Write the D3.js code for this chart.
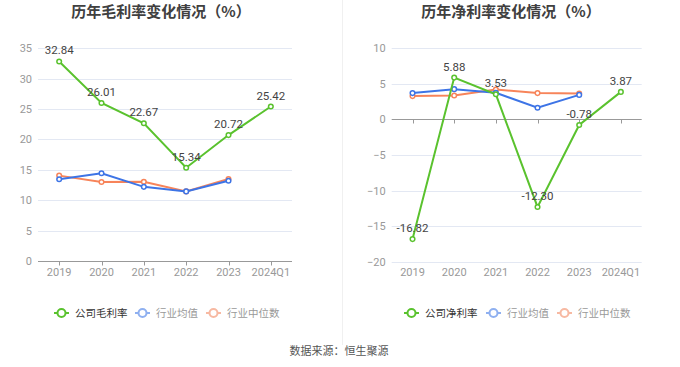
<!DOCTYPE html>
<html><head><meta charset="utf-8">
<script src="https://cdn.jsdelivr.net/npm/d3@7/dist/d3.min.js"></script>
<style>body{margin:0;background:#fff;}svg{display:block;font-family:"Noto Sans CJK SC","Noto Sans",sans-serif;}</style>
</head><body><svg id="c" width="680" height="367"></svg>
<script>
const categories = ["2019","2020","2021","2022","2023","2024Q1"];
const grossCompany = [32.84, 26.01, 22.67, 15.34, 20.72, 25.42];
const grossAvg = [13.45, 14.45, 12.2, 11.45, 13.2];
const grossMedian = [14.05, 13.0, 13.05, 11.45, 13.5];
const netCompany = [-16.82, 5.88, 3.53, -12.30, -0.78, 3.87];
const netAvg = [3.7, 4.26, 3.75, 1.64, 3.45];
const netMedian = [3.28, 3.37, 4.2, 3.7, 3.65];
const grossTicks = [0,5,10,15,20,25,30,35];
const netTicks = [-20,-15,-10,-5,0,5,10];
const titles = ["历年毛利率变化情况（%）","历年净利率变化情况（%）"];
const legendGross = ["公司毛利率","行业均值","行业中位数"];
const legendNet = ["公司净利率","行业均值","行业中位数"];
const source = "数据来源：恒生聚源";

const GREEN="#5ac22e", BLUE="#3d74e6", ORANGE="#f7845a";
const svg = d3.select("#c");

// divider
svg.append("line").attr("x1",342.5).attr("x2",342.5).attr("y1",0).attr("y2",345).attr("stroke","#f0f0f0");

function panel(o){
  const g = svg.append("g");
  const x = d3.scaleBand().domain(categories).range([o.x0,o.x1]);
  const y = d3.scaleLinear().domain(o.domain).range([o.yb,o.yt]);
  const cx = d => x(d)+x.bandwidth()/2;
  // title
  g.append("text").attr("x",o.tx).attr("y",17).attr("text-anchor","middle")
    .attr("font-size",15).attr("font-weight","bold").attr("fill","#404040").text(o.title);
  // grid
  o.ticks.forEach(t=>{
    if(t===o.axisAt) return;
    g.append("line").attr("x1",o.x0).attr("x2",o.x1).attr("y1",Math.round(y(t))+0.5).attr("y2",Math.round(y(t))+0.5)
      .attr("stroke","#e3e8f3").attr("stroke-width",1);
  });
  // y labels
  const ya = g.append("g").attr("transform",`translate(${o.x0-6},0)`)
    .call(d3.axisLeft(y).tickValues(o.ticks).tickSize(0).tickPadding(0));
  ya.select(".domain").remove();
  ya.selectAll("text").attr("fill","#999").attr("font-size",11).attr("font-family","Roboto, 'Noto Sans', sans-serif");
  // x axis line
  const ay = Math.round(y(o.axisAt))+0.5;
  g.append("line").attr("x1",o.x0).attr("x2",o.x1).attr("y1",ay).attr("y2",ay).attr("stroke","#999").attr("stroke-width",1);
  categories.forEach(c=>{
    g.append("line").attr("x1",Math.round(cx(c))+0.5).attr("x2",Math.round(cx(c))+0.5).attr("y1",ay).attr("y2",ay+4).attr("stroke","#999");
  });
  const xa = g.append("g").attr("transform",`translate(0,${y(o.domain[0])})`)
    .call(d3.axisBottom(x).tickSize(0).tickPadding(7));
  xa.select(".domain").remove();
  xa.selectAll("text").attr("fill","#999").attr("font-size",11).attr("font-family","Roboto, 'Noto Sans', sans-serif");

  const line = d3.line().x((d,i)=>cx(categories[i])).y(d=>y(d));
  [[o.median,ORANGE],[o.avg,BLUE],[o.company,GREEN]].forEach(([data,col])=>{
    g.append("path").attr("d",line(data)).attr("fill","none").attr("stroke",col).attr("stroke-width",2);
    g.selectAll(null).data(data).enter().append("circle")
      .attr("cx",(d,i)=>cx(categories[i])).attr("cy",d=>y(d)).attr("r",2.3)
      .attr("fill","#fff").attr("stroke",col).attr("stroke-width",1.5);
  });
  g.selectAll(null).data(o.company).enter().append("text")
    .attr("x",(d,i)=>cx(categories[i])).attr("y",d=>y(d)-7)
    .attr("text-anchor","middle").attr("font-size",11.5).attr("fill","#444")
    .attr("font-family","Roboto, 'Noto Sans', sans-serif")
    .text(d=>d.toFixed(2));
  // legend
  const cols=[GREEN,"#8fb0f0","#f7b9a2"], tcols=["#333","#999","#999"];
  o.legend.forEach((name,i)=>{
    const lx=o.lx[i], ly=313;
    g.append("line").attr("x1",lx).attr("x2",lx+15).attr("y1",ly).attr("y2",ly).attr("stroke",cols[i]).attr("stroke-width",2);
    g.append("circle").attr("cx",lx+7.5).attr("cy",ly).attr("r",4).attr("fill","#fff").attr("stroke",cols[i]).attr("stroke-width",2);
    g.append("text").attr("x",lx+21).attr("y",ly+4).attr("font-size",10.5).attr("fill",tcols[i]).text(name);
  });
}

panel({x0:38,x1:292,yb:261,yt:48.3,domain:[0,35],ticks:grossTicks,axisAt:0,tx:161,title:titles[0],
  company:grossCompany,avg:grossAvg,median:grossMedian,legend:legendGross,lx:[54,135,206]});
panel({x0:391.7,x1:641.7,yb:261.7,yt:48.3,domain:[-20,10],ticks:netTicks,axisAt:0,tx:511,title:titles[1],
  company:netCompany,avg:netAvg,median:netMedian,legend:legendNet,lx:[404,486,557]});

svg.append("text").attr("x",339).attr("y",355).attr("text-anchor","middle").attr("font-size",11).attr("fill","#555").text(source);
</script></body></html>
